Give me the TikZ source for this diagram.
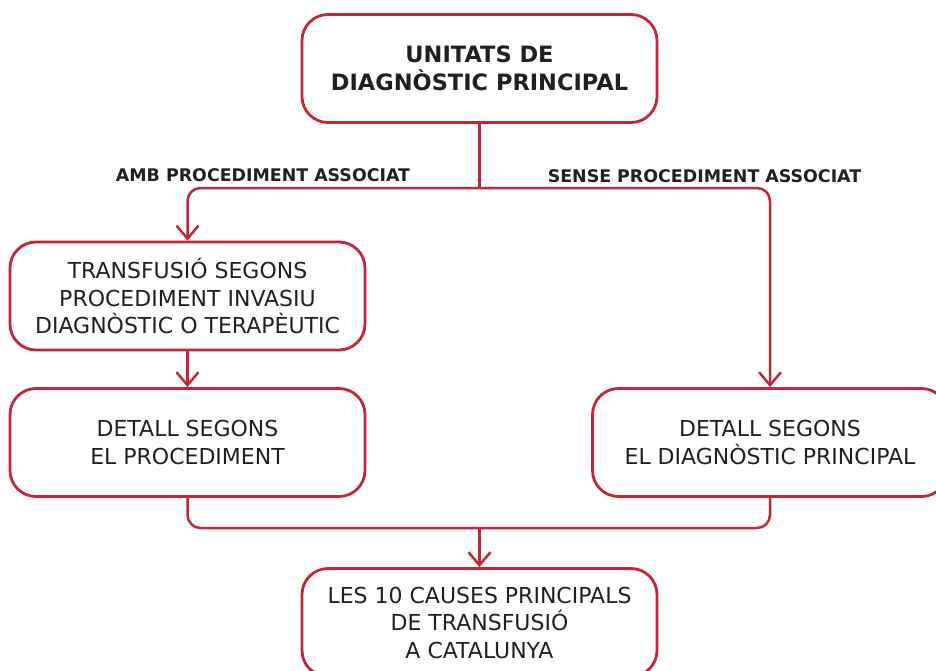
\documentclass[tikz,border=0pt]{standalone}
\usepackage{fontspec}
\setmainfont{DejaVu Sans}
\usetikzlibrary{arrows.meta}
\definecolor{lred}{RGB}{196,38,56}
\definecolor{ink}{RGB}{35,31,32}
\begin{document}
\begin{tikzpicture}[x=1pt,y=-1pt,
  box/.style={draw=lred, line width=2.8pt, rounded corners=26pt, minimum width=355pt,
    minimum height=108pt, align=center, text=ink, inner sep=0pt,
    font=\fontsize{22}{27.5}\selectfont},
  topbox/.style={box, font=\fontsize{22.5}{28}\selectfont\bfseries},
  lbl/.style={text=ink, inner sep=0pt, font=\fontsize{17.4}{20}\selectfont\bfseries},
  conn/.style={draw=lred, line width=2.5pt, rounded corners=13pt},
  arr/.style={conn, -{Straight Barb[length=13pt,width=22pt,line width=2.5pt]}}]
\useasboundingbox (0,0) rectangle (936,671);
\begin{scope}
\clip (0,0) rectangle (936,671);
\node[topbox] (top) at (479.5,68.5) {UNITATS DE\\DIAGNÒSTIC PRINCIPAL};
\node[box] (A) at (187.5,296) {TRANSFUSIÓ SEGONS\\PROCEDIMENT INVASIU\\DIAGNÒSTIC O TERAPÈUTIC};
\node[box] (B) at (187.5,442.5) {DETALL SEGONS\\EL PROCEDIMENT};
\node[box] (C) at (770,442.5) {DETALL SEGONS\\EL DIAGNÒSTIC PRINCIPAL};
\node[box, minimum height=108pt] (D) at (479.5,622.5) {LES 10 CAUSES PRINCIPALS\\DE TRANSFUSIÓ\\A CATALUNYA};
\end{scope}
\node[lbl] (l1) at (263,175) {AMB PROCEDIMENT ASSOCIAT};
\node[lbl] (l2) at (704.5,176) {SENSE PROCEDIMENT ASSOCIAT};
\coordinate (split) at (479.5,188);
\coordinate (merge) at (479.5,528);
\draw[conn] (top.south) -- (split);
\draw[arr] (split) -| (A.north);
\draw[arr] (split) -| (C.north);
\draw[arr] (A.south) -- (B.north);
\draw[conn] (B.south) |- (merge);
\draw[conn] (C.south) |- (merge);
\draw[arr] (merge) -- (D.north);
\end{tikzpicture}
\end{document}
